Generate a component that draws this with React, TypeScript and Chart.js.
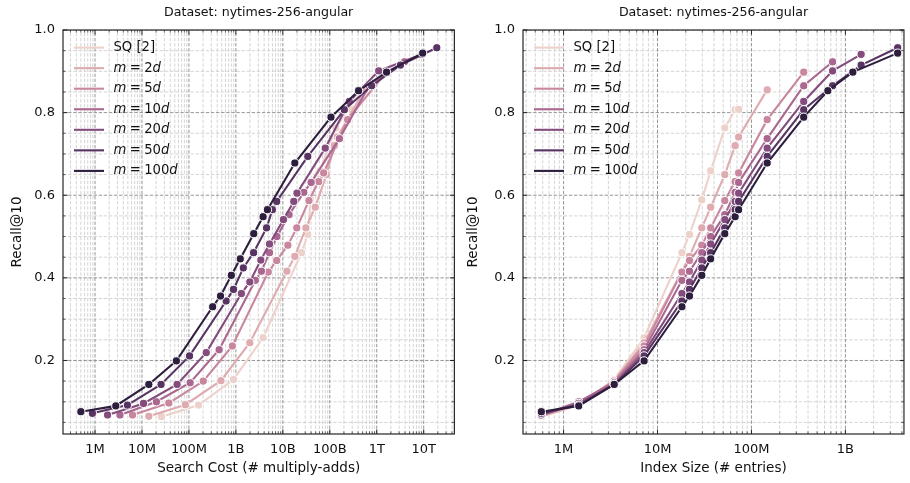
import React, { useEffect, useRef } from 'react';
import { Chart, registerables } from 'chart.js';

Chart.register(...registerables);

const FONT = "'DejaVu Sans', 'Liberation Sans', sans-serif";

const TITLE = 'Dataset: nytimes-256-angular';
const Y_LABEL = 'Recall@10';
const X_LABEL_COST = 'Search Cost (# multiply-adds)';
const X_LABEL_SIZE = 'Index Size (# entries)';

const SERIES_LABELS = ['SQ [2]', 'm = 2d', 'm = 5d', 'm = 10d', 'm = 20d', 'm = 50d', 'm = 100d'];
const SERIES_COLORS = ['#edd1cb', '#deabb0', '#c8879e', '#aa678f', '#834c7d', '#583463', '#2d1e3e'];

// Recall@10 per series
const RECALL_SQ = [0.064, 0.092, 0.154, 0.255, 0.461, 0.505, 0.589, 0.659, 0.763, 0.807, 0.808];
const RECALL_2D = [0.065, 0.093, 0.151, 0.243, 0.416, 0.452, 0.521, 0.571, 0.650, 0.720, 0.741, 0.855];
const RECALL_5D = [0.068, 0.097, 0.150, 0.235, 0.414, 0.442, 0.479, 0.521, 0.587, 0.633, 0.654, 0.783, 0.898];
const RECALL_10D = [0.068, 0.100, 0.146, 0.226, 0.394, 0.416, 0.461, 0.500, 0.553, 0.607, 0.631, 0.737, 0.865, 0.923];
const RECALL_20D = [0.068, 0.096, 0.142, 0.219, 0.362, 0.390, 0.443, 0.482, 0.541, 0.585, 0.605, 0.714, 0.827, 0.901, 0.941];
const RECALL_50D = [0.072, 0.092, 0.142, 0.211, 0.344, 0.372, 0.424, 0.461, 0.521, 0.565, 0.585, 0.694, 0.807, 0.865, 0.915, 0.957];
const RECALL_100D = [0.076, 0.090, 0.142, 0.199, 0.330, 0.356, 0.406, 0.446, 0.507, 0.548, 0.565, 0.678, 0.789, 0.853, 0.898, 0.944];

// Search cost (# multiply-adds) per series
const COST_SQ = [2.6e7, 1.6e8, 8.9e8, 3.8e9, 2.5e10, 3.4e10, 3.9e10, 6.2e10, 1.35e11, 2.4e11, 2.9e11];
const COST_2D = [1.4e7, 8.4e7, 4.8e8, 1.98e9, 1.22e10, 1.8e10, 3.1e10, 4.9e10, 8.5e10, 1.25e11, 1.45e11, 5.5e11];
const COST_5D = [6.3e6, 3.73e7, 2.02e8, 8.4e8, 4.9e9, 7.4e9, 1.28e10, 1.98e10, 3.6e10, 5.8e10, 7.4e10, 2.4e11, 1.6e12];
const COST_10D = [3.4e6, 2.03e7, 1.06e8, 4.4e8, 2.6e9, 3.5e9, 5.2e9, 7.5e9, 1.36e10, 2.8e10, 4.0e10, 1.6e11, 6.9e11, 3.9e12];
const COST_20D = [1.85e6, 1.08e7, 5.6e7, 2.34e8, 1.31e9, 1.98e9, 3.4e9, 5.2e9, 1.03e10, 1.71e10, 2.0e10, 8.0e10, 2.6e11, 1.1e12, 9.0e12];
const COST_50D = [8.8e5, 4.9e6, 2.55e7, 1.03e8, 6.2e8, 8.9e8, 1.44e9, 2.38e9, 4.5e9, 6.0e9, 7.4e9, 3.4e10, 2.04e11, 7.8e11, 3.2e12, 1.9e13];
const COST_100D = [5.0e5, 2.77e6, 1.4e7, 5.4e7, 3.2e8, 4.7e8, 8.0e8, 1.24e9, 2.4e9, 3.8e9, 4.7e9, 1.8e10, 1.06e11, 4.1e11, 1.62e12, 9.5e12];

// Index size (# entries) per series
const SIZE_SQ = [5.8e5, 1.45e6, 3.46e6, 7.2e6, 1.82e7, 2.19e7, 2.96e7, 3.68e7, 5.2e7, 6.7e7, 7.3e7];
const SIZE_2D = [5.8e5, 1.45e6, 3.46e6, 7.2e6, 1.82e7, 2.19e7, 2.96e7, 3.68e7, 5.2e7, 6.7e7, 7.3e7, 1.47e8];
const SIZE_5D = [5.8e5, 1.45e6, 3.46e6, 7.2e6, 1.82e7, 2.19e7, 2.96e7, 3.68e7, 5.2e7, 6.7e7, 7.3e7, 1.47e8, 3.6e8];
const SIZE_10D = [5.8e5, 1.45e6, 3.46e6, 7.2e6, 1.82e7, 2.19e7, 2.96e7, 3.68e7, 5.2e7, 6.7e7, 7.3e7, 1.47e8, 3.6e8, 7.3e8];
const SIZE_20D = [5.8e5, 1.45e6, 3.46e6, 7.2e6, 1.82e7, 2.19e7, 2.96e7, 3.68e7, 5.2e7, 6.7e7, 7.3e7, 1.47e8, 3.6e8, 7.3e8, 1.47e9];
const SIZE_50D = [5.8e5, 1.45e6, 3.46e6, 7.2e6, 1.82e7, 2.19e7, 2.96e7, 3.68e7, 5.2e7, 6.7e7, 7.3e7, 1.47e8, 3.6e8, 7.3e8, 1.47e9, 3.6e9];
const SIZE_100D = [5.8e5, 1.45e6, 3.46e6, 7.2e6, 1.82e7, 2.19e7, 2.96e7, 3.68e7, 5.2e7, 6.7e7, 7.3e7, 1.47e8, 3.6e8, 6.5e8, 1.2e9, 3.6e9];

const RECALLS = [RECALL_SQ, RECALL_2D, RECALL_5D, RECALL_10D, RECALL_20D, RECALL_50D, RECALL_100D];
const COSTS = [COST_SQ, COST_2D, COST_5D, COST_10D, COST_20D, COST_50D, COST_100D];
const SIZES = [SIZE_SQ, SIZE_2D, SIZE_5D, SIZE_10D, SIZE_20D, SIZE_50D, SIZE_100D];

// Tick labels
const COST_TICK_VALUES = [1e6, 1e7, 1e8, 1e9, 1e10, 1e11, 1e12, 1e13];
const COST_TICK_LABELS = ['1M', '10M', '100M', '1B', '10B', '100B', '1T', '10T'];
const SIZE_TICK_VALUES = [1e6, 1e7, 1e8, 1e9];
const SIZE_TICK_LABELS = ['1M', '10M', '100M', '1B'];
const RECALL_TICK_VALUES = [0.2, 0.4, 0.6, 0.8, 1.0];
const RECALL_TICK_LABELS = ['0.2', '0.4', '0.6', '0.8', '1.0'];

const Y_MIN = 0.022;
const Y_MAX = 1.0;
const COST_MIN = 2.08e5;
const COST_MAX = 4.5e13;
const SIZE_MIN = 3.7e5;
const SIZE_MAX = 4.2e9;

function logGrid(min: number, max: number) {
  const out: any[] = [];
  const e0 = Math.floor(Math.log10(min));
  const e1 = Math.ceil(Math.log10(max));
  for (let e = e0; e <= e1; e++) {
    for (let k = 1; k <= 9; k++) {
      const v = k * Math.pow(10, e);
      if (v >= min && v <= max) out.push({ value: v, major: k === 1 });
    }
  }
  return out;
}

function linGrid(min: number, max: number) {
  const out: any[] = [];
  for (let i = 1; i <= 20; i++) {
    const v = Math.round(i * 5) / 100;
    if (v >= min - 1e-9 && v <= max + 1e-9) out.push({ value: v, major: i % 4 === 0 });
  }
  return out;
}

function lookupLabel(v: number, values: number[], labels: string[], log: boolean) {
  for (let i = 0; i < values.length; i++) {
    const d = log ? Math.abs(Math.log10(v) - Math.log10(values[i])) : Math.abs(v - values[i]);
    if (d < 1e-6) return labels[i];
  }
  return '';
}

function drawMathLabel(ctx: CanvasRenderingContext2D, text: string, x: number, y: number, size: number) {
  const m = /^m = (\d+)d$/.exec(text);
  const regular = `${size}px ${FONT}`;
  const italic = `italic ${size}px ${FONT}`;
  if (!m) {
    ctx.font = regular;
    ctx.fillText(text, x, y);
    return;
  }
  const segs: [string, boolean, number][] = [
    ['m', true, 3.4],
    ['=', false, 3.4],
    [m[1], false, 0],
    ['d', true, 0],
  ];
  let cx = x;
  for (const [t, it, gap] of segs) {
    ctx.font = it ? italic : regular;
    ctx.fillText(t, cx, y);
    cx += ctx.measureText(t).width + gap;
  }
}

const decor = {
  id: 'decor',
  beforeDatasetsDraw(chart: any) {
    const { ctx, chartArea: a, scales } = chart;
    ctx.save();
    ctx.beginPath();
    ctx.rect(a.left, a.top, a.right - a.left, a.bottom - a.top);
    ctx.clip();
    ctx.lineWidth = 0.9;
    ctx.setLineDash([3.4, 1.7]);
    for (const major of [false, true]) {
      ctx.strokeStyle = major ? '#8a8a8a' : '#d0d0d0';
      ctx.beginPath();
      for (const t of scales.x.ticks) {
        if (!!t.major !== major) continue;
        const x = scales.x.getPixelForValue(t.value);
        ctx.moveTo(x, a.bottom);
        ctx.lineTo(x, a.top);
      }
      for (const t of scales.y.ticks) {
        if (!!t.major !== major) continue;
        const y = scales.y.getPixelForValue(t.value);
        ctx.moveTo(a.left, y);
        ctx.lineTo(a.right, y);
      }
      ctx.stroke();
    }
    ctx.restore();
  },
  afterDatasetsDraw(chart: any, _args: any, opts: any) {
    const { ctx, chartArea: a, scales } = chart;
    ctx.save();
    // inward ticks
    ctx.strokeStyle = '#262626';
    for (const t of scales.x.ticks) {
      const x = scales.x.getPixelForValue(t.value);
      const len = t.major ? 4.5 : 2.6;
      ctx.lineWidth = t.major ? 1 : 0.7;
      ctx.beginPath();
      ctx.moveTo(x, a.bottom);
      ctx.lineTo(x, a.bottom - len);
      ctx.moveTo(x, a.top);
      ctx.lineTo(x, a.top + len);
      ctx.stroke();
    }
    for (const t of scales.y.ticks) {
      const y = scales.y.getPixelForValue(t.value);
      const len = t.major ? 4.5 : 2.6;
      ctx.lineWidth = t.major ? 1 : 0.7;
      ctx.beginPath();
      ctx.moveTo(a.left, y);
      ctx.lineTo(a.left + len, y);
      ctx.moveTo(a.right, y);
      ctx.lineTo(a.right - len, y);
      ctx.stroke();
    }
    // frame
    ctx.lineWidth = 1.2;
    ctx.strokeStyle = '#262626';
    ctx.strokeRect(a.left, a.top, a.right - a.left, a.bottom - a.top);

    // legend
    const labels: string[] = opts.labels;
    const colors: string[] = opts.colors;
    ctx.textBaseline = 'middle';
    ctx.textAlign = 'left';
    for (let i = 0; i < labels.length; i++) {
      const y = a.top + 17.6 + i * 20.55;
      ctx.strokeStyle = colors[i];
      ctx.lineWidth = 2.1;
      ctx.beginPath();
      ctx.moveTo(a.left + 11, y);
      ctx.lineTo(a.left + 41, y);
      ctx.stroke();
      ctx.fillStyle = '#111';
      drawMathLabel(ctx, labels[i], a.left + 50.5, y, 13.2);
    }

    // title and axis labels
    ctx.fillStyle = '#111';
    ctx.font = `12.6px ${FONT}`;
    ctx.textAlign = 'center';
    ctx.fillText(opts.title, (a.left + a.right) / 2, 12.5);
    ctx.font = `13.5px ${FONT}`;
    ctx.fillText(opts.xLabel, (a.left + a.right) / 2, 468);
    ctx.translate(a.left - opts.yLabelOffset, (a.top + a.bottom) / 2);
    ctx.rotate(-Math.PI / 2);
    ctx.fillText(opts.yLabel, 0, 0);
    ctx.restore();
  },
};

type PanelProps = {
  xs: number[][];
  xMin: number;
  xMax: number;
  tickValues: number[];
  tickLabels: string[];
  xLabel: string;
  width: number;
  left: number;
  rightPad: number;
  yAxisWidth: number;
  yLabelOffset: number;
};

function Panel(p: PanelProps) {
  const ref = useRef<HTMLCanvasElement>(null);
  useEffect(() => {
    const datasets = SERIES_LABELS.map((label, i) => ({
      label,
      data: p.xs[i].map((x, j) => ({ x, y: RECALLS[i][j] })),
      borderColor: SERIES_COLORS[i],
      backgroundColor: SERIES_COLORS[i],
      pointBackgroundColor: SERIES_COLORS[i],
      pointBorderColor: '#ffffff',
      pointBorderWidth: 1,
      pointRadius: 4.1,
      borderWidth: 2.1,
      showLine: true,
      tension: 0,
      order: SERIES_LABELS.length - i,
    }));
    const chart = new Chart(ref.current as HTMLCanvasElement, {
      type: 'scatter',
      data: { datasets } as any,
      options: {
        animation: false,
        responsive: false,
        maintainAspectRatio: false,
        devicePixelRatio: 1,
        layout: { padding: { top: 30, right: p.rightPad, left: 0, bottom: 0 } },
        plugins: {
          legend: { display: false },
          tooltip: { enabled: false },
          title: { display: false },
          decor: {
            labels: SERIES_LABELS,
            colors: SERIES_COLORS,
            title: TITLE,
            xLabel: p.xLabel,
            yLabel: Y_LABEL,
            yLabelOffset: p.yLabelOffset,
          },
        } as any,
        scales: {
          x: {
            type: 'logarithmic',
            min: p.xMin,
            max: p.xMax,
            position: 'bottom',
            grid: { display: false, drawTicks: false },
            border: { display: false },
            afterBuildTicks: (s: any) => {
              s.ticks = logGrid(p.xMin, p.xMax);
            },
            afterFit: (s: any) => {
              s.height = 49;
            },
            ticks: {
              autoSkip: false,
              maxRotation: 0,
              minRotation: 0,
              padding: 8,
              color: '#111',
              font: { family: FONT, size: 13 },
              callback: (v: any, i: number, t: any[]) =>
                t[i] && t[i].major ? lookupLabel(Number(v), p.tickValues, p.tickLabels, true) : '',
            },
          },
          y: {
            type: 'linear',
            min: Y_MIN,
            max: Y_MAX,
            position: 'left',
            grid: { display: false, drawTicks: false },
            border: { display: false },
            afterBuildTicks: (s: any) => {
              s.ticks = linGrid(Y_MIN, Y_MAX);
            },
            afterFit: (s: any) => {
              s.width = p.yAxisWidth;
            },
            ticks: {
              autoSkip: false,
              padding: 8,
              color: '#111',
              font: { family: FONT, size: 13 },
              callback: (v: any, i: number, t: any[]) =>
                t[i] && t[i].major ? lookupLabel(Number(v), RECALL_TICK_VALUES, RECALL_TICK_LABELS, false) : '',
            },
          },
        },
      } as any,
      plugins: [decor as any],
    });
    return () => chart.destroy();
  }, []);
  return (
    <canvas
      ref={ref}
      width={p.width}
      height={483}
      style={{ position: 'absolute', left: p.left, top: 0, width: p.width, height: 483 }}
    />
  );
}

export default function App() {
  return (
    <div style={{ position: 'absolute', left: 0, top: 0, width: 910, height: 483, background: '#fff' }}>
      <Panel
        xs={COSTS}
        xMin={COST_MIN}
        xMax={COST_MAX}
        tickValues={COST_TICK_VALUES}
        tickLabels={COST_TICK_LABELS}
        xLabel={X_LABEL_COST}
        width={460}
        left={0}
        rightPad={2.5}
        yAxisWidth={63}
        yLabelOffset={46}
      />
      <Panel
        xs={SIZES}
        xMin={SIZE_MIN}
        xMax={SIZE_MAX}
        tickValues={SIZE_TICK_VALUES}
        tickLabels={SIZE_TICK_LABELS}
        xLabel={X_LABEL_SIZE}
        width={450}
        left={460}
        rightPad={3}
        yAxisWidth={63}
        yLabelOffset={50}
      />
    </div>
  );
}
